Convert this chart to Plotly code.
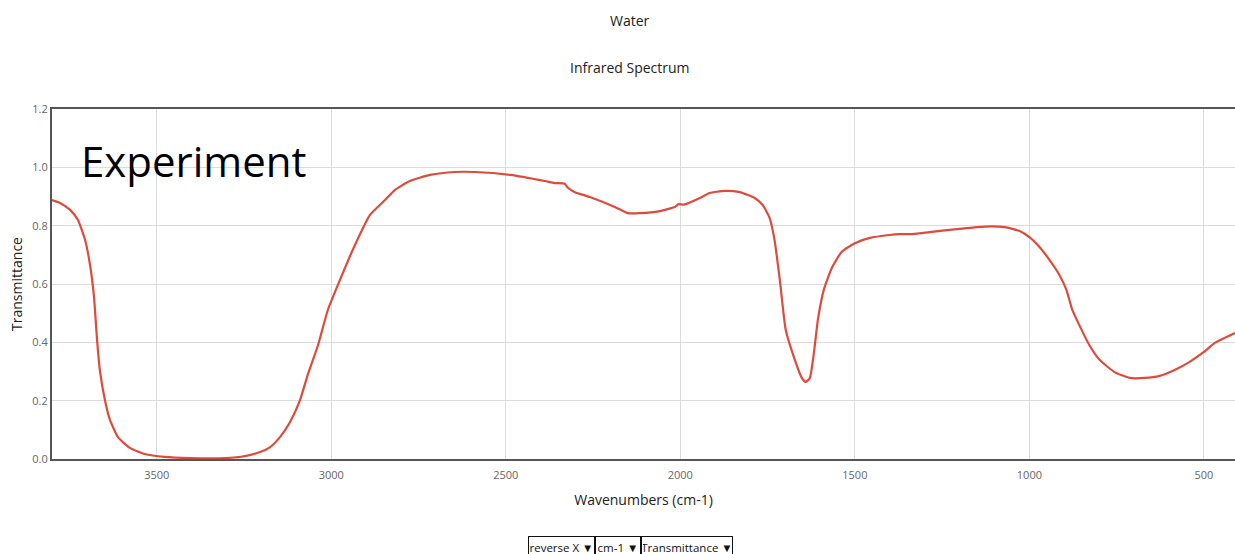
import plotly.graph_objects as go

# Data
wavenumbers = [3800, 3777, 3748, 3726, 3705, 3691, 3680, 3671, 3663, 3648, 3634, 3611, 3577, 3534,
               3477, 3405, 3305, 3247, 3204, 3176, 3147, 3118, 3090, 3067, 3038, 3010, 2975, 2932,
               2889, 2846, 2818, 2775, 2717, 2646, 2589, 2488, 2388, 2360, 2331, 2322, 2302, 2259,
               2188, 2174, 2150, 2116, 2059, 2016, 2005, 1990, 1944, 1916, 1873, 1830, 1787, 1764,
               1744, 1730, 1715, 1698, 1672, 1652, 1641, 1629, 1618, 1606, 1589, 1566, 1538, 1500,
               1457, 1400, 1372, 1343, 1286, 1200, 1128, 1071, 1028, 1000, 971, 942, 914, 894, 877,
               857, 828, 799, 756, 713, 670, 627, 584, 541, 500, 469, 411]
transmittance = [0.888, 0.878, 0.854, 0.820, 0.750, 0.665, 0.560, 0.410, 0.305, 0.200, 0.134, 0.075,
                 0.038, 0.017, 0.007, 0.003, 0.003, 0.010, 0.024, 0.040, 0.075, 0.127, 0.200, 0.290,
                 0.390, 0.510, 0.614, 0.734, 0.837, 0.888, 0.922, 0.953, 0.974, 0.984, 0.984, 0.974,
                 0.953, 0.946, 0.944, 0.930, 0.915, 0.898, 0.864, 0.856, 0.843, 0.843, 0.850, 0.864,
                 0.874, 0.872, 0.895, 0.912, 0.919, 0.915, 0.895, 0.871, 0.826, 0.750, 0.614, 0.442,
                 0.340, 0.278, 0.264, 0.278, 0.357, 0.477, 0.580, 0.655, 0.710, 0.740, 0.758, 0.768,
                 0.771, 0.771, 0.778, 0.789, 0.797, 0.795, 0.782, 0.761, 0.727, 0.682, 0.631, 0.580,
                 0.511, 0.459, 0.390, 0.340, 0.298, 0.278, 0.278, 0.285, 0.305, 0.333, 0.367, 0.398,
                 0.432]
x_ticks = [3500, 3000, 2500, 2000, 1500, 1000, 500]
y_ticks = [0.0, 0.2, 0.4, 0.6, 0.8, 1.0, 1.2]
menu_labels = ["reverse X \u25BC", "cm-1 \u25BC", "Transmittance \u25BC"]

fig = go.Figure()
fig.add_trace(go.Scatter(
    x=wavenumbers, y=transmittance, mode="lines",
    line=dict(color="#dd4b3c", width=2.2, shape="spline", smoothing=0.5),
    showlegend=False, hoverinfo="x+y",
))

# body margin is removed below, so the figure fills the whole window
W, H = 1235, 554
L, R, T, B = 52, 0, 109, 95
pw, ph = W - L - R, H - T - B

def px_x(p):
    return (p - L) / pw

def px_y(p):
    return (H - B - p) / ph

annotations = [
    dict(text="Water", xref="paper", yref="paper", x=px_x(630), y=px_y(20),
         xanchor="center", yanchor="middle", showarrow=False,
         font=dict(size=14, color="#222")),
    dict(text="Infrared Spectrum", xref="paper", yref="paper", x=px_x(630), y=px_y(68),
         xanchor="center", yanchor="middle", showarrow=False,
         font=dict(size=14, color="#222")),
    dict(text="Experiment", xref="paper", yref="paper", x=px_x(79), y=px_y(160),
         xanchor="left", yanchor="middle", showarrow=False,
         font=dict(size=42, color="black", family="Open Sans, sans-serif")),
]
# dropdown-like boxes under the plot
menu_left = [528, 595, 641]
menu_right = [595, 641, 733]
for lbl, x0, x1 in zip(menu_labels, menu_left, menu_right):
    annotations.append(dict(
        text=lbl, xref="paper", yref="paper", x=px_x(x0), y=px_y(536),
        xanchor="left", yanchor="top", showarrow=False,
        width=x1 - x0 - 4, height=18, align="center", valign="middle",
        bordercolor="#111", borderwidth=1, borderpad=1, bgcolor="white",
        font=dict(size=11.5, color="#111"),
    ))

fig.update_layout(
    width=W, height=H,
    margin=dict(l=L, r=R, t=T, b=B, autoexpand=False),
    paper_bgcolor="white", plot_bgcolor="white",
    font=dict(family="Open Sans, sans-serif", color="#222"),
    xaxis=dict(
        range=[3800, 411], tickvals=x_ticks, ticktext=[str(v) for v in x_ticks],
        showgrid=True, gridcolor="#dcdcdc", gridwidth=1,
        showline=True, linecolor="#555", linewidth=2, mirror=True,
        ticks="", tickfont=dict(size=11, color="#666"), automargin=False,
        ticklabelstandoff=5,
        title=dict(text="Wavenumbers (cm-1)", font=dict(size=14, color="#222"), standoff=14),
        zeroline=False,
    ),
    yaxis=dict(
        range=[0, 1.2], tickvals=y_ticks, tickformat=".1f",
        showgrid=True, gridcolor="#dcdcdc", gridwidth=1,
        showline=True, linecolor="#555", linewidth=2, mirror=False,
        ticks="", tickfont=dict(size=11, color="#666"), automargin=False,
        title=dict(text="Transmittance", font=dict(size=14, color="#222"), standoff=6),
        zeroline=False,
    ),
    annotations=annotations,
)

fig.write_html(
    "out.html", default_width=f"{W}px", default_height=f"{H}px",
    config={"displayModeBar": False},
    post_script="document.body.style.margin='0';document.documentElement.style.overflow='hidden';",
)
